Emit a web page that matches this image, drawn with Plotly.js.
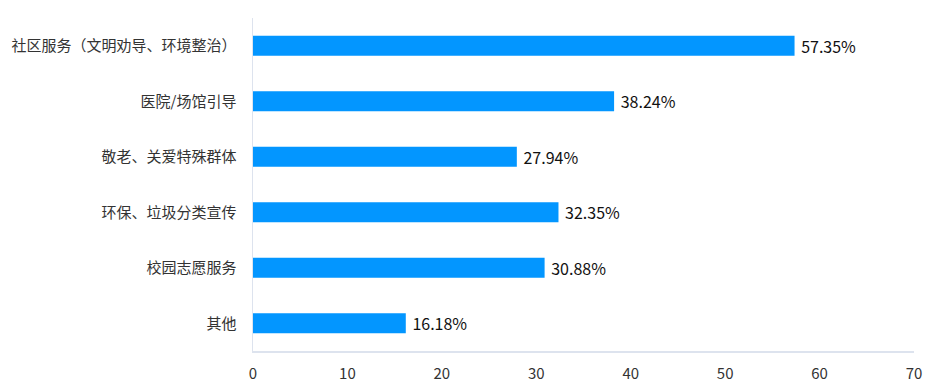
<!DOCTYPE html>
<html>
<head>
<meta charset="utf-8">
<script src="https://cdn.plot.ly/plotly-3.0.1.min.js"></script>
<style>html,body{margin:0;padding:0;background:#fff;}#chart{width:931px;height:392px;}</style>
</head>
<body>
<div id="chart"></div>
<script>
const categories = ["社区服务（文明劝导、环境整治）", "医院/场馆引导", "敬老、关爱特殊群体", "环保、垃圾分类宣传", "校园志愿服务", "其他"];
const values = [57.35, 38.24, 27.94, 32.35, 30.88, 16.18];
const xTicks = [0, 10, 20, 30, 40, 50, 60, 70];

const font = "'Microsoft YaHei', 'Noto Sans CJK SC', sans-serif";

Plotly.newPlot('chart', [{
  type: 'bar',
  orientation: 'h',
  y: categories,
  x: values,
  marker: {color: '#0396FF'},
  text: values.map(v => ' ' + v.toFixed(2) + '%'),
  textposition: 'outside',
  constraintext: 'none',
  cliponaxis: false,
  textfont: {family: font, size: 16, color: '#111'},
  hoverinfo: 'none'
}], {
  width: 931, height: 392,
  margin: {l: 253, r: 17, t: 18, b: 41},
  paper_bgcolor: '#fff', plot_bgcolor: '#fff',
  bargap: 0.64,
  showlegend: false,
  font: {family: font},
  xaxis: {
    range: [0, 70], tickvals: xTicks, ticktext: xTicks.map(String),
    showgrid: false, zeroline: false,
    showline: true, linecolor: '#dde3ee', linewidth: 1.5,
    ticks: '', ticklabelstandoff: 8,
    tickfont: {family: font, size: 15, color: '#333'}
  },
  yaxis: {
    autorange: 'reversed', type: 'category',
    showgrid: false, zeroline: false,
    showline: true, linecolor: '#dde3ee', linewidth: 1.5,
    ticks: '', ticklabelstandoff: 12,
    tickfont: {family: font, size: 15, color: '#333'}
  }
}, {displayModeBar: false, staticPlot: true});
</script>
</body>
</html>
